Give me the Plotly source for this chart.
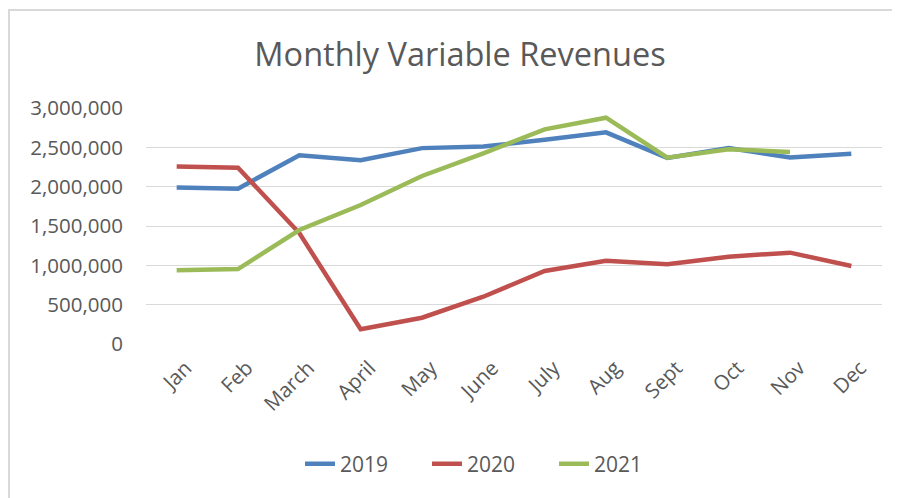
import plotly.graph_objects as go

months = ["Jan", "Feb", "March", "April", "May", "June", "July", "Aug", "Sept", "Oct", "Nov", "Dec"]
rev_2019 = [1990000, 1975000, 2400000, 2335000, 2490000, 2510000, 2595000, 2690000, 2365000, 2490000, 2370000, 2420000]
rev_2020 = [2255000, 2242000, 1410000, 187000, 334000, 601000, 928000, 1059000, 1013000, 1110000, 1161000, 992000]
rev_2021 = [937000, 953000, 1449000, 1767000, 2136000, 2424000, 2729000, 2877000, 2369000, 2475000, 2441000, None]
y_ticks = [0, 500000, 1000000, 1500000, 2000000, 2500000, 3000000]

OFF = 8  # browser default body margin
W, H = 900 - OFF, 498 - OFF
# target page-pixel geometry of the plot area
PL, PR, PT, PB = 146, 882, 108, 344
L, T = PL - OFF, PT - OFF
R, B = W - (PR - OFF), H - (PB - OFF)
pw, ph = PR - PL, PB - PT

def px(x):  # page pixel -> paper x
    return (x - PL) / pw

def py(y):  # page pixel -> paper y
    return 1 - (y - PT) / ph

fig = go.Figure()
for name, vals, col in [("2019", rev_2019, "#4f81bd"), ("2020", rev_2020, "#c0504d"), ("2021", rev_2021, "#9bbb59")]:
    fig.add_trace(go.Scatter(x=months, y=vals, name=name, mode="lines",
                             line=dict(color=col, width=4.5), connectgaps=False))

fig.update_layout(
    width=W, height=H,
    margin=dict(l=L, r=R, t=T, b=B, pad=0, autoexpand=False),
    paper_bgcolor="white", plot_bgcolor="white",
    font=dict(family="Open Sans", color="#595959", size=20.5),
    title=dict(text="Monthly Variable Revenues", x=(460 - OFF) / W, xanchor="center", xref="container",
               y=1 - (55 - OFF) / H, yanchor="middle", yref="container",
               font=dict(size=32.5, color="#595959", family="Open Sans")),
    showlegend=True,
    legend=dict(orientation="h", x=px(300), xanchor="left", y=py(464), yanchor="middle",
                font=dict(size=21, color="#595959"), bgcolor="rgba(0,0,0,0)",
                entrywidth=82, entrywidthmode="pixels", itemwidth=30),
    xaxis=dict(type="category", categoryorder="array", categoryarray=months,
               showgrid=False, showline=False, zeroline=False, tickangle=-45,
               ticks="", ticklabelshift=9, ticklabelstandoff=7,
               tickfont=dict(size=20.5, color="#595959"), range=[-0.5, 11.5]),
    yaxis=dict(range=[0, 3000000], tickvals=y_ticks, tickformat=",d", showgrid=True,
               gridcolor="#d9d9d9", gridwidth=1.2, zeroline=False, showline=False,
               ticks="", ticklabelstandoff=22, tickfont=dict(size=20.5, color="#595959")),
    shapes=[
        dict(type="line", xref="paper", yref="paper", x0=px(7), x1=px(900), y0=py(10), y1=py(10),
             line=dict(color="#d9d9d9", width=2)),
        dict(type="line", xref="paper", yref="paper", x0=px(9), x1=px(9), y0=py(10), y1=py(498),
             line=dict(color="#d9d9d9", width=2)),
    ],
)

fig.write_html("out.html")
